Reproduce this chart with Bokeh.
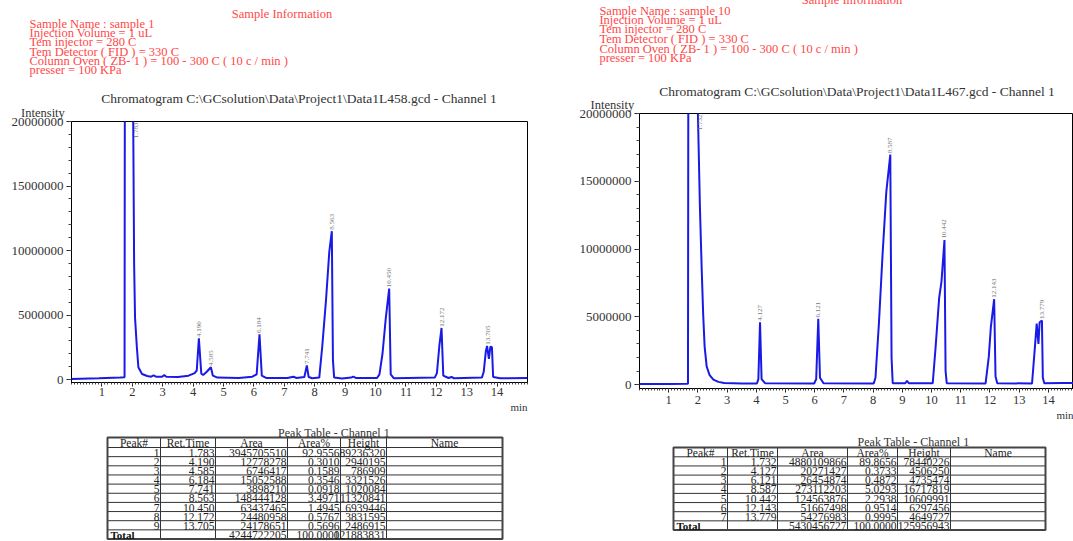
import numpy as np
from bokeh.plotting import figure
from bokeh.layouts import row, column
from bokeh.models import Range1d, FixedTicker, Title, Div, NumeralTickFormatter
from bokeh.core.properties import value
from bokeh.embed import file_html
from bokeh.resources import INLINE

SERIF = "Liberation Serif"
RED = "#ff4848"
DARK = "#333333"
BLUE = "#1a1ae6"

# ---------------- data ----------------
info_heading = "Sample Information"
left_info = ["Sample Name : sample 1", "Injection Volume = 1 uL", "Tem injector = 280 C",
             "Tem Detector ( FID ) = 330 C",
             "Column Oven ( ZB- 1 )  = 100 - 300 C ( 10 c / min )", "presser = 100 KPa"]
right_info = ["Sample Name : sample 10", "Injection Volume = 1 uL", "Tem injector = 280 C",
              "Tem Detector ( FID ) = 330 C",
              "Column Oven ( ZB- 1 )  = 100 - 300 C ( 10 c / min )", "presser = 100 KPa"]
left_title = "Chromatogram C:\\GCsolution\\Data\\Project1\\Data1L458.gcd - Channel 1"
right_title = "Chromatogram C:\\GCsolution\\Data\\Project1\\Data1L467.gcd - Channel 1"
y_axis_name = "Intensity"
x_axis_name = "min"

y_ticks = [0, 5000000, 10000000, 15000000, 20000000]
x_ticks = [1, 2, 3, 4, 5, 6, 7, 8, 9, 10, 11, 12, 13, 14]

table_title = "Peak Table - Channel 1"
table_headers = ["Peak#", "Ret.Time", "Area", "Area%", "Height", "Name"]

left_peak = [1, 2, 3, 4, 5, 6, 7, 8, 9]
left_rt = [1.783, 4.190, 4.585, 6.184, 7.741, 8.563, 10.450, 12.172, 13.705]
left_area = [3945705510, 12778278, 6746417, 15052588, 3898210, 148444128, 63437465, 24480958, 24178651]
left_area_pct = [92.9556, 0.3010, 0.1589, 0.3546, 0.0918, 3.4971, 1.4945, 0.5767, 0.5696]
left_height = [89236320, 2940195, 786909, 3321526, 1020084, 11320841, 6939446, 3831595, 2486915]
left_total = [4244722205, 100.0000, 121883831]

right_peak = [1, 2, 3, 4, 5, 6, 7]
right_rt = [1.732, 4.127, 6.121, 8.587, 10.442, 12.143, 13.779]
right_area = [4880109866, 20271427, 26454874, 273112203, 124563876, 51667498, 54276983]
right_area_pct = [89.8656, 0.3733, 0.4872, 5.0293, 2.2938, 0.9514, 0.9995]
right_height = [78440226, 4506250, 4735474, 16717819, 10609991, 6297456, 4649727]
right_total = [5430456727, 100.0000, 125956943]

# chromatogram traces: time (min), intensity (millions)
left_trace_t = [0.00, 0.90, 1.60, 1.745, 1.783, 1.80, 2.03, 2.06, 2.09, 2.15, 2.20, 2.32, 2.49,
                2.62, 2.70, 2.78, 2.98, 3.05, 3.12, 3.50, 3.85, 4.05, 4.12, 4.19, 4.27, 4.33,
                4.45, 4.585, 4.65, 4.80, 5.50, 5.95, 6.09, 6.184, 6.26, 6.40, 7.10, 7.30, 7.40,
                7.66, 7.741, 7.80, 7.92, 8.15, 8.25, 8.37, 8.48, 8.563, 8.60, 8.64, 8.90, 9.20,
                9.27, 9.35, 10.05, 10.13, 10.23, 10.34, 10.45, 10.50, 10.60, 11.95, 12.02,
                12.10, 12.172, 12.23, 12.40, 12.50, 12.58, 13.50, 13.56, 13.63, 13.67, 13.73,
                13.78, 13.83, 13.87, 14.10, 15.00]
left_trace_m = [0.05, 0.10, 0.16, 0.18, 89.2, 89.2, 20.0, 9.0, 4.8, 2.5, 0.95, 0.43, 0.27,
                0.22, 0.32, 0.22, 0.22, 0.34, 0.22, 0.20, 0.30, 0.50, 0.70, 3.20, 0.45, 0.35,
                0.60, 0.95, 0.30, 0.15, 0.12, 0.22, 0.40, 3.50, 0.30, 0.12, 0.12, 0.22, 0.12,
                0.20, 1.10, 0.20, 0.10, 0.15, 2.60, 6.10, 9.90, 11.50, 1.50, 0.15, 0.08, 0.15,
                0.22, 0.12, 0.12, 0.40, 2.00, 4.80, 7.05, 0.40, 0.10, 0.15, 0.50,
                2.60, 4.00, 0.30, 0.12, 0.20, 0.10, 0.15, 0.60, 2.20, 2.60, 1.60,
                2.55, 2.50, 0.20, 0.10, 0.12]

right_trace_t = [0.00, 1.00, 1.66, 1.70, 1.76, 2.00, 2.07, 2.13, 2.18, 2.23, 2.30, 2.40, 2.53,
                 2.70, 2.90, 3.50, 4.02, 4.07, 4.127, 4.18, 4.30, 5.98, 6.05, 6.121, 6.18, 6.30,
                 8.02, 8.08, 8.20, 8.32, 8.45, 8.587, 8.63, 8.67, 9.10, 9.16, 9.22, 10.04, 10.14,
                 10.26, 10.34, 10.442, 10.48, 10.52, 11.85, 11.96, 12.03, 12.143, 12.19, 12.25,
                 13.44, 13.54, 13.60, 13.66, 13.70, 13.779, 13.81, 13.86, 14.50, 15.00]
right_trace_m = [0.05, 0.05, 0.06, 78.4, 78.4, 20.0, 13.0, 8.5, 5.2, 2.8, 1.33, 0.70, 0.36,
                 0.20, 0.12, 0.08, 0.08, 0.40, 4.60, 0.40, 0.10, 0.08, 0.40, 4.85, 0.50, 0.10,
                 0.08, 0.50, 4.60, 9.50, 14.20, 16.97, 2.00, 0.10, 0.10, 0.28, 0.10, 0.10, 2.80,
                 6.40, 7.60, 10.67, 1.00, 0.10, 0.08, 2.06, 4.24, 6.30, 0.60, 0.10,
                 0.08, 2.80, 4.50, 3.00, 4.60, 4.73, 0.50, 0.10, 0.12, 0.12]

CHART_BOTTOM = 420
TABLE_H = 121


def make_header(ox, width, height, heading_xy, info, info_x, info_y, title, title_xy):
    parts = []

    def span(cx, cy, txt, size, color, align):
        lh = 14
        if align == "center":
            pos = f"left:{cx - ox - 300}px;width:600px;text-align:center;"
        else:
            pos = f"left:{cx - ox}px;"
        parts.append(
            f'<div style="position:absolute;{pos}top:{cy - lh / 2}px;height:{lh}px;'
            f'line-height:{lh}px;font-size:{size};color:{color};white-space:nowrap;">{txt}</div>')

    span(heading_xy[0], heading_xy[1], info_heading, "12.5px", RED, "center")
    for txt, cy in zip(info, info_y):
        span(info_x, cy, txt, "12.5px", RED, "left")
    span(title_xy[0], title_xy[1], title, "13.5px", DARK, "center")
    html = (f'<div style="position:relative;width:{width}px;height:{height}px;'
            f"font-family:'{SERIF}',serif;\">" + "".join(parts) + "</div>")
    return Div(text=html, width=width, height=height, margin=(0, 0, 0, 0),
               styles={"overflow": "visible"})


def make_chart(ox, width, top, fl, fr, ft, fb, x_end, y0, tt, tm, rts, ylab_x, x_standoff):
    p = figure(width=width, height=CHART_BOTTOM - top, x_range=Range1d(0, x_end),
               y_range=Range1d(y0, 20e6),
               min_border_left=fl - ox, min_border_right=ox + width - fr,
               min_border_top=ft - top, min_border_bottom=CHART_BOTTOM - fb,
               toolbar_location=None, output_backend="svg", title=None)
    p.grid.visible = False
    p.background_fill_color = "white"
    p.border_fill_color = None
    p.outline_line_color = "black"
    p.outline_line_width = 1

    def Y(py):
        return y0 + (fb - py) / (fb - ft) * (20e6 - y0)

    ya = p.yaxis[0]
    ya.ticker = FixedTicker(ticks=y_ticks, minor_ticks=list(range(0, 20000001, 1000000)))
    ya.formatter = NumeralTickFormatter(format="0")
    xa = p.xaxis[0]
    xa.ticker = FixedTicker(ticks=x_ticks, minor_ticks=[i / 10 for i in range(0, 151)])
    for ax in (ya, xa):
        ax.axis_line_color = "black"
        ax.major_tick_line_color = "#222222"
        ax.minor_tick_line_color = "#444444"
        ax.major_tick_in = 0
        ax.minor_tick_in = 0
        ax.major_label_text_font = SERIF
        ax.major_label_text_font_size = "13px"
        ax.major_label_text_color = DARK
    ya.major_tick_out = 5
    ya.minor_tick_out = 3
    ya.major_label_standoff = 3
    xa.major_tick_out = 4
    xa.minor_tick_out = 2
    xa.major_label_standoff = x_standoff
    xa.major_label_text_font_size = "12.5px"

    p.add_layout(Title(text=y_axis_name, align="left", offset=ylab_x - fl, standoff=3,
                       text_font=SERIF, text_font_size="12.5px", text_font_style="normal",
                       text_color=DARK), "above")
    p.add_layout(Title(text=x_axis_name, align="right", offset=0, standoff=0,
                       text_font=SERIF, text_font_size="11px", text_font_style="normal",
                       text_color=DARK), "below")

    p.line(tt, [m * 1e6 for m in tm], line_color=BLUE, line_width=2)

    # peak labels
    tarr = np.array(tt)
    marr = np.array(tm)
    lx, ly, lt = [], [], []
    for rt in rts[1:]:
        near = np.abs(tarr - rt) <= 0.08
        lx.append(rt)
        ly.append(marr[near].max() * 1e6 + 0.1e6)
        lt.append(f"{rt:.3f}")
    p.text(lx, ly, text=lt, angle=np.pi / 2, text_align="left", text_baseline="middle",
           text_font=value(SERIF), text_font_size="7px", text_color="#777777")
    p.text([rts[0] + 0.35], [Y(ft + 1)], text=[f"{rts[0]:.3f}"], angle=np.pi / 2,
           text_align="right", text_baseline="middle",
           text_font=value(SERIF), text_font_size="7px", text_color="#777777")
    return p


def make_table(ox, width, fl, fr, cols, top, head_bot, rowh, peaks, rts, areas, pcts, heights,
               total, title_xy):
    t = figure(width=width, height=TABLE_H, x_range=Range1d(fl, fr),
               y_range=Range1d(CHART_BOTTOM + TABLE_H, CHART_BOTTOM),
               x_axis_type=None, y_axis_type=None, toolbar_location=None,
               output_backend="svg", title=None,
               min_border_left=fl - ox, min_border_right=ox + width - fr,
               min_border_top=0, min_border_bottom=0)
    t.outline_line_color = None
    t.border_fill_color = None
    t.grid.visible = False
    n = len(peaks) + 1
    bottom = head_bot + n * rowh
    hy = [head_bot + k * rowh for k in range(n)]
    t.segment(x0=[cols[0]] * len(hy), x1=[cols[-1]] * len(hy), y0=hy, y1=hy,
              line_color="#333333", line_width=1)
    t.segment(x0=cols[1:-1], x1=cols[1:-1], y0=[top] * (len(cols) - 2),
              y1=[bottom] * (len(cols) - 2), line_color="#333333", line_width=1)
    t.quad(left=[cols[0]], right=[cols[-1]], top=[top], bottom=[bottom], fill_color=None,
           line_color="#444444", line_width=2)

    hx = [(cols[i] + cols[i + 1]) / 2 for i in range(len(table_headers))]
    t.text(hx, [(top + head_bot) / 2 + 0.5] * len(hx), text=table_headers, text_align="center",
           text_baseline="middle", text_font=value(SERIF), text_font_size="11.5px",
           text_color="#222222")
    xs, ys, tx = [], [], []
    for r in range(len(peaks)):
        vals = [str(peaks[r]), f"{rts[r]:.3f}", str(areas[r]), f"{pcts[r]:.4f}", str(heights[r])]
        for c, v in enumerate(vals):
            xs.append(cols[c + 1] - 1)
            ys.append(head_bot + (r + 0.5) * rowh + 0.6)
            tx.append(v)
    ry = head_bot + (n - 0.5) * rowh + 0.2
    for c, v in zip([2, 3, 4], [str(total[0]), f"{total[1]:.4f}", str(total[2])]):
        xs.append(cols[c + 1] - 1)
        ys.append(ry)
        tx.append(v)
    t.text(xs, ys, text=tx, text_align="right", text_baseline="middle",
           text_font=value(SERIF), text_font_size="11.5px", text_color="#222222")
    t.text([cols[0] + 3], [ry], text=["Total"], text_align="left", text_baseline="middle",
           text_font=value(SERIF), text_font_size="11px", text_font_style="bold",
           text_color="#111111")
    t.text([title_xy[0]], [title_xy[1]], text=[table_title], text_align="center",
           text_baseline="middle", text_font=value(SERIF), text_font_size="12px",
           text_color=DARK)
    return t


# left panel: page x 0..540 ; right panel: 540..1073
h1 = make_header(0, 540, 102, (282, 14), left_info, 29.5, [24, 33.3, 42, 51.7, 61, 70],
                 left_title, (299, 99))
p1 = make_chart(0, 540, 102, 71, 527, 119, 382, 15.0, -0.23e6, left_trace_t, left_trace_m,
                left_rt, 20.6, 1)
t1 = make_table(0, 540, 71, 527, [107, 160, 215, 287, 340, 386, 502], 437, 447, 9.15,
                left_peak, left_rt, left_area, left_area_pct, left_height, left_total,
                (333.5, 432.5))

h2 = make_header(540, 533, 94, (852, 0), right_info, 599.4, [10.5, 19.5, 29.3, 39.2, 48.5, 57.5],
                 right_title, (857, 91.5))
p2 = make_chart(540, 533, 94, 639, 1073, 111, 389, 14.86, -0.29e6, right_trace_t, right_trace_m,
                right_rt, 590, 3)
t2 = make_table(540, 533, 639, 1073, [673, 727, 777, 847, 897, 950, 1045], 447, 456.3, 9.15,
                right_peak, right_rt, right_area, right_area_pct, right_height, right_total,
                (913, 441.7))

layout = row(column(h1, p1, t1), column(h2, p2, t2))
open("out.html", "w").write(file_html(layout, INLINE))
